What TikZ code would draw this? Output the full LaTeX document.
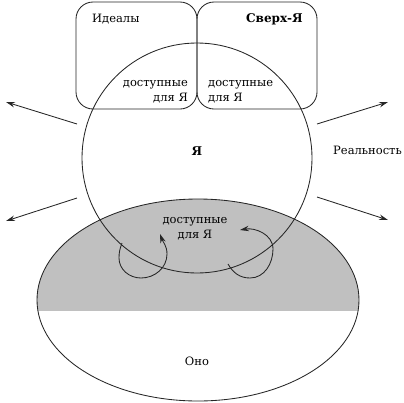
\documentclass[tikz,border=0pt]{standalone}
\usepackage{fontspec}
\setmainfont{DejaVu Serif}
\usetikzlibrary{arrows.meta}
\begin{document}
\begin{tikzpicture}[x=1pt,y=1pt,
  thinline/.style={line width=0.85pt,draw=black!85},
  arr/.style={thinline,-{Stealth[length=9pt,width=5.5pt]}},
  lbl/.style={font=\fontsize{11.5}{15}\selectfont,inner sep=0pt},
  bold lbl/.style={font=\fontsize{12}{15}\selectfont\bfseries,inner sep=0pt},
  boxshape/.style={thinline,rounded corners=17pt}]
\useasboundingbox (0,0) rectangle (404,-402);
% gray part of Id
\begin{scope}
  \clip (198,-300) ellipse [x radius=161, y radius=101];
  \fill[fill={rgb,255:red,192;green,192;blue,192}] (30,-190) rectangle (370,-311);
\end{scope}
\draw[thinline] (198,-300) ellipse [x radius=161, y radius=101];
% Ego circle
\draw[thinline] (197,-158) circle [radius=115];
% boxes
\draw[boxshape] (76,-2) rectangle (197,-109);
\draw[boxshape] (197,-2) rectangle (317,-109);
% texts
\node[lbl,anchor=base west] (ideal) at (92,-22) {Идеалы};
\node[bold lbl,anchor=base east] (super) at (303,-22) {Сверх-Я};
\node[lbl,anchor=base east,align=right] (accL) at (188,-101) {доступные\\для Я};
\node[lbl,anchor=base west,align=left] (accR) at (208,-101) {доступные\\для Я};
\node[bold lbl,anchor=base] (ego) at (197,-155) {Я};
\node[lbl,anchor=base west] (real) at (333,-154) {Реальность};
\node[lbl,anchor=base,align=center] (accC) at (195,-238) {доступные\\для Я};
\node[lbl,anchor=base] (id) at (197,-365) {Оно};
% outward arrows
\coordinate (a1s) at (77,-124); \coordinate (a1e) at (6,-102);
\coordinate (a2s) at (77,-198); \coordinate (a2e) at (6,-221);
\coordinate (a3s) at (317,-124); \coordinate (a3e) at (388,-102);
\coordinate (a4s) at (317,-197); \coordinate (a4e) at (388,-220);
\draw[arr] (a1s) -- (a1e);
\draw[arr] (a2s) -- (a2e);
\draw[arr] (a3s) -- (a3e);
\draw[arr] (a4s) -- (a4e);
% loops
\coordinate (l1s) at (122,-243); \coordinate (l1e) at (160,-234);
\coordinate (l2s) at (228,-264); \coordinate (l2e) at (240,-230);
\draw[arr] (l1s) to[out=-110,in=90] (119,-258) to[out=-90,in=180] (141,-278)
  to[out=0,in=-90] (167,-254) to[out=90,in=-70] (l1e);
\draw[arr] (l2s) to[out=-60,in=180] (250,-278) to[out=0,in=-90] (273,-249)
  to[out=90,in=10] (l2e);
\end{tikzpicture}
\end{document}
